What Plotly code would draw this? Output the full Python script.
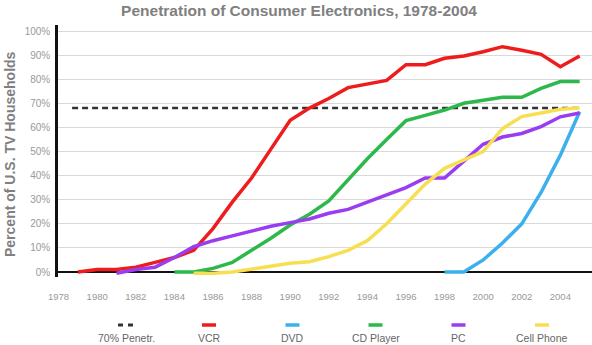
import plotly.graph_objects as go

# ---- data ----
years_vcr = list(range(1979, 2006))
vcr = [0, 1, 1, 2, 4, 6, 9, 18, 29, 39, 51, 63, 68, 72, 76.5, 78, 79.5,
       86, 86, 88.7, 89.6, 91.4, 93.5, 92, 90.3, 85.2, 89.6]

years_dvd = list(range(1998, 2006))
dvd = [0, 0, 5, 12, 20, 33, 48.5, 66.5]

years_cd = list(range(1984, 2006))
cd = [0, 0, 1.5, 4, 9, 14, 19.5, 24, 29.5, 38.5, 47, 55, 62.8, 65, 67.2,
      70, 71.4, 72.5, 72.5, 76.2, 79, 79]

years_pc = list(range(1981, 2006))
pc = [-0.5, 1, 2, 6, 10.5, 13, 15, 17, 19, 20.5, 22, 24.4, 26, 29, 32, 35,
      39, 39, 46, 53, 56, 57.5, 60.3, 64.4, 66]

years_cell = list(range(1985, 2006))
cell = [-0.5, -0.5, 0, 1.2, 2.2, 3.6, 4.3, 6.4, 9, 13, 20, 28.5, 36.5, 43,
        46.5, 50, 59.5, 64.5, 66, 67.5, 68]

years_ref = [1978.7, 2005]
ref = [68, 68]

x_ticks = list(range(1978, 2005, 2))
y_ticks = list(range(0, 101, 10))
y_tick_text = [f"{v}%" for v in y_ticks]

title = "Penetration of Consumer Electronics, 1978-2004"
y_title = "Percent of U.S. TV Households"

series = [
    ("70% Penetr.", years_ref, ref, "#333333", "dash"),
    ("VCR", years_vcr, vcr, "#ee1c1c", "solid"),
    ("DVD", years_dvd, dvd, "#3cb0ec", "solid"),
    ("CD Player", years_cd, cd, "#2cb84a", "solid"),
    ("PC", years_pc, pc, "#9a3cf0", "solid"),
    ("Cell Phone", years_cell, cell, "#f8df52", "solid"),
]

W, H = 592, 345
L, R, T, B = 58, 0, 25, 68
pw, ph = W - L - R, H - T - B

def px2paper_x(px):
    return (px - L) / pw

def px2paper_y(py):
    return (H - B - py) / ph

fig = go.Figure()
for name, xs, ys, color, dash in series:
    if dash == "dash":
        line = dict(color=color, width=2.5, dash="6px,4px")
    else:
        line = dict(color=color, width=3.5)
    fig.add_trace(go.Scatter(x=xs, y=ys, mode="lines", name=name, line=line,
                             showlegend=False))

# custom legend: symbol above label
shapes = []
annotations = []
leg_centers = [126, 209, 292.5, 375.5, 458.5, 542]
for (name, xs, ys, color, dash), cx in zip(series, leg_centers):
    sy = px2paper_y(325)
    if dash == "dash":
        for a, b in [(cx - 8, cx - 3), (cx + 2, cx + 7)]:
            shapes.append(dict(type="line", xref="paper", yref="paper",
                               x0=px2paper_x(a), x1=px2paper_x(b), y0=sy, y1=sy,
                               line=dict(color=color, width=3)))
    else:
        shapes.append(dict(type="line", xref="paper", yref="paper",
                           x0=px2paper_x(cx - 7), x1=px2paper_x(cx + 7), y0=sy, y1=sy,
                           line=dict(color=color, width=3.5)))
    annotations.append(dict(text=name, xref="paper", yref="paper",
                            x=px2paper_x(cx), y=px2paper_y(337.5), showarrow=False,
                            xanchor="center", yanchor="middle",
                            font=dict(family="Liberation Sans, Arial", size=10.5,
                                      color="#666666")))

annotations.append(dict(text="<b>" + y_title + "</b>", xref="paper", yref="paper",
                        x=px2paper_x(10), y=px2paper_y(154), showarrow=False,
                        textangle=-90, xanchor="center", yanchor="middle",
                        font=dict(family="Liberation Sans, Arial", size=14,
                                  color="#808080")))

fig.update_layout(
    width=W, height=H,
    margin=dict(l=L, r=R, t=T, b=B),
    paper_bgcolor="white", plot_bgcolor="white",
    title=dict(text="<b>" + title + "</b>", x=299 / W, xref="container", xanchor="center",
               y=1 - 11 / H, yref="container", yanchor="middle",
               font=dict(family="Liberation Sans, Arial", size=15.5, color="#808080")),
    shapes=shapes,
    annotations=annotations,
    xaxis=dict(range=[1977.97, 2005.64], tickvals=x_ticks, showgrid=False,
               zeroline=False, showline=False, ticks="outside", ticklen=11,
               tickcolor="rgba(0,0,0,0)",
               tickfont=dict(family="Liberation Sans, Arial", size=9.5, color="#999999")),
    yaxis=dict(range=[-2.07, 102.49], tickvals=y_ticks, ticktext=y_tick_text,
               showgrid=True, gridcolor="#d9d9d9", gridwidth=1,
               zeroline=True, zerolinecolor="#111111", zerolinewidth=2,
               showline=True, linecolor="#111111", linewidth=2.5,
               ticks="outside", ticklen=3, tickcolor="rgba(0,0,0,0)",
               tickfont=dict(family="Liberation Sans, Arial", size=10, color="#999999")),
)

fig.write_html("out.html")
